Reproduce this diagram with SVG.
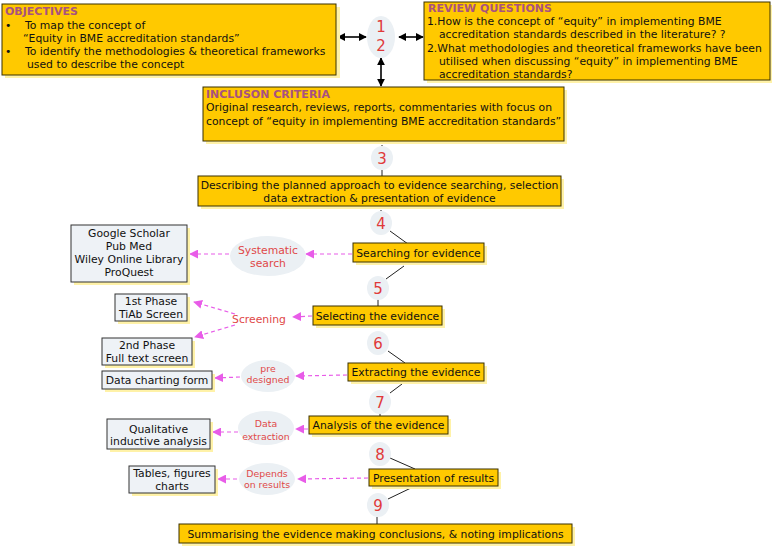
<svg xmlns="http://www.w3.org/2000/svg" width="772" height="547" viewBox="0 0 772 547">
<defs>
<style>
text{font-family:"DejaVu Sans","Verdana",sans-serif;font-size:10.8px;fill:#111}
.ttl{font-weight:bold;fill:#A8527F;font-size:11px}
.num{font-size:15px;fill:#E03A3A;text-anchor:middle}
.red{fill:#E04848;font-size:10.8px;text-anchor:middle}
.sm{font-size:9.4px}
.c{text-anchor:middle}
.box{fill:#FFC900;stroke:#3a3000;stroke-width:1}
.shd{fill:#FFF2A8}
.gb{fill:#EEF2F6;stroke:#333;stroke-width:1}
.el{fill:#EBF0F4}
.ln{stroke:#222;stroke-width:1;fill:none}
.dash{stroke:#E85CE8;stroke-width:1.2;stroke-dasharray:4 3;fill:none;marker-end:url(#pk)}
.dbl{stroke:#000;stroke-width:1.6;fill:none;marker-start:url(#bk);marker-end:url(#bk)}
</style>
<marker id="pk" viewBox="0 0 10 10" refX="9" refY="5" markerWidth="9" markerHeight="9" markerUnits="userSpaceOnUse" orient="auto"><path d="M0,0 L10,5 L0,10 z" fill="#E85CE8"/></marker>
<marker id="bk" viewBox="0 0 10 10" refX="9" refY="5" markerWidth="8" markerHeight="8" markerUnits="userSpaceOnUse" orient="auto-start-reverse"><path d="M0,0 L10,5 L0,10 z" fill="#000"/></marker>
</defs>

<g id="connectors">
<line class="dbl" x1="338" y1="37" x2="366" y2="37"/>
<line class="dbl" x1="399" y1="37" x2="423" y2="37"/>
<line class="dbl" x1="381" y1="58" x2="381" y2="86"/>
<line class="ln" x1="382" y1="143" x2="382" y2="146" stroke-dasharray="1 1"/>
<line class="ln" x1="382" y1="170" x2="382" y2="176"/>
<line class="ln" x1="381" y1="208" x2="381" y2="212" stroke-dasharray="1 1"/>
<line class="ln" x1="390" y1="231" x2="408" y2="244"/>
<line class="ln" x1="404" y1="266" x2="386" y2="279"/>
<line class="ln" x1="378" y1="299" x2="378" y2="306"/>
<line class="ln" x1="388" y1="351" x2="405" y2="363"/>
<line class="ln" x1="402" y1="384" x2="390" y2="393"/>
<line class="ln" x1="380" y1="412" x2="380" y2="416"/>
<line class="ln" x1="390" y1="458" x2="415" y2="469"/>
<line class="ln" x1="413" y1="487" x2="388" y2="499"/>
<line class="ln" x1="377" y1="517" x2="377" y2="524"/>
<line class="dash" x1="352" y1="254" x2="306" y2="254"/>
<line class="dash" x1="229" y1="254" x2="190" y2="254"/>
<line class="dash" x1="312" y1="316" x2="293" y2="317"/>
<line class="dash" x1="235" y1="314" x2="194" y2="302"/>
<line class="dash" x1="235" y1="325" x2="195" y2="337"/>
<line class="dash" x1="347" y1="375" x2="296" y2="376"/>
<line class="dash" x1="240" y1="377" x2="215" y2="378"/>
<line class="dash" x1="308" y1="429" x2="296" y2="429"/>
<line class="dash" x1="238" y1="432" x2="213" y2="432"/>
<line class="dash" x1="368" y1="478" x2="298" y2="479"/>
<line class="dash" x1="237" y1="479" x2="218" y2="479"/>
</g>

<g id="objectives">
<rect class="shd" x="5" y="7" width="335" height="71"/>
<rect class="box" x="2" y="4" width="334" height="71"/>
<text class="ttl" x="5" y="15">OBJECTIVES</text>
<text x="5" y="29">•</text><text x="25" y="29">To map the concept of</text>
<text x="23" y="42">“Equity in BME accreditation standards”</text>
<text x="5" y="55">•</text><text x="25" y="55">To identify the methodologies &amp; theoretical frameworks</text>
<text x="27" y="68">used to describe the concept</text>
</g>

<g id="n12">
<ellipse class="el" cx="381" cy="37" rx="14" ry="21"/>
<text class="num" x="381" y="32">1</text>
<text class="num" x="381" y="51">2</text>
</g>

<g id="review">
<rect class="shd" x="427" y="5" width="345" height="78"/>
<rect class="box" x="424" y="2" width="346" height="78"/>
<text class="ttl" x="428" y="12">REVIEW QUESTIONS</text>
<text x="427" y="25">1.How is the concept of “equity” in implementing BME</text>
<text x="439" y="38">accreditation standards described in the literature? ?</text>
<text x="427" y="52">2.What methodologies and theoretical frameworks have been</text>
<text x="439" y="65">utilised when discussing “equity”  in implementing BME</text>
<text x="439" y="78">accreditation standards?</text>
</g>

<g id="inclusion">
<rect class="shd" x="206" y="90" width="361" height="54"/>
<rect class="box" x="203" y="87" width="361" height="54"/>
<text class="ttl" x="206" y="98">INCLUSON CRITERIA</text>
<text x="206" y="111">Original research, reviews, reports, commentaries with focus on</text>
<text x="206" y="125">concept of “equity in implementing BME accreditation standards”</text>
</g>

<g id="n3"><ellipse class="el" cx="382" cy="158" rx="11" ry="12"/><text class="num" x="382" y="164">3</text></g>

<g id="planned">
<rect class="shd" x="201" y="179" width="363" height="30"/>
<rect class="box" x="198" y="176" width="363" height="30"/>
<text class="c" x="379.5" y="189">Describing the planned approach to evidence searching, selection</text>
<text class="c" x="379.5" y="202">data extraction &amp; presentation of evidence</text>
</g>

<g id="n4"><ellipse class="el" cx="381" cy="223" rx="11" ry="12"/><text class="num" x="381" y="229">4</text></g>

<g id="searching">
<rect class="shd" x="356" y="246" width="131" height="19"/>
<rect class="box" x="353" y="243" width="131" height="19"/>
<text class="c" x="418.5" y="256.5">Searching for evidence</text>
</g>

<g id="n5"><ellipse class="el" cx="378" cy="288" rx="11" ry="12"/><text class="num" x="378" y="294">5</text></g>

<g id="selecting">
<rect class="shd" x="316" y="309" width="129" height="19"/>
<rect class="box" x="313" y="306" width="129" height="19"/>
<text class="c" x="377.5" y="319.5">Selecting the evidence</text>
</g>

<g id="n6"><ellipse class="el" cx="378" cy="343" rx="11" ry="12"/><text class="num" x="378" y="349">6</text></g>

<g id="extracting">
<rect class="shd" x="351" y="366" width="136" height="18"/>
<rect class="box" x="348" y="363" width="136" height="18"/>
<text class="c" x="416" y="376">Extracting the evidence</text>
</g>

<g id="n7"><ellipse class="el" cx="380" cy="402" rx="11" ry="12"/><text class="num" x="380" y="408">7</text></g>

<g id="analysis">
<rect class="shd" x="312" y="419" width="139" height="18"/>
<rect class="box" x="309" y="416" width="139" height="18"/>
<text class="c" x="378.5" y="429">Analysis of the evidence</text>
</g>

<g id="n8"><ellipse class="el" cx="380" cy="454" rx="11" ry="12"/><text class="num" x="380" y="460">8</text></g>

<g id="presentation">
<rect class="shd" x="372" y="472" width="129" height="17"/>
<rect class="box" x="369" y="469" width="129" height="17"/>
<text class="c" x="433.5" y="481.5">Presentation of results</text>
</g>

<g id="n9"><ellipse class="el" cx="378" cy="505" rx="11" ry="12"/><text class="num" x="378" y="511">9</text></g>

<g id="summarising">
<rect class="shd" x="182" y="527" width="393" height="19"/>
<rect class="box" x="179" y="524" width="393" height="19"/>
<text class="c" x="375.5" y="538">Summarising the evidence  making conclusions, &amp; noting implications</text>
</g>

<g id="systematic">
<ellipse class="el" cx="268" cy="256" rx="38" ry="20"/>
<text class="red" x="268" y="254">Systematic</text>
<text class="red" x="268" y="267">search</text>
</g>

<g id="databases">
<rect class="shd" x="74" y="228" width="116" height="57"/>
<rect class="gb" x="71" y="225" width="116" height="57"/>
<text class="c" x="129" y="237">Google Scholar</text>
<text class="c" x="129" y="250">Pub Med</text>
<text class="c" x="129" y="263">Wiley Online Library</text>
<text class="c" x="129" y="276">ProQuest</text>
</g>

<g id="screening">
<text class="red" x="259" y="323">Screening</text>
</g>

<g id="phase1">
<rect class="shd" x="118" y="297" width="72" height="27"/>
<rect class="gb" x="115" y="294" width="72" height="27"/>
<text class="c" x="151" y="305">1st Phase</text>
<text class="c" x="151" y="318">TiAb Screen</text>
</g>

<g id="phase2">
<rect class="shd" x="105" y="341" width="90" height="27"/>
<rect class="gb" x="102" y="338" width="90" height="27"/>
<text class="c" x="147" y="349">2nd Phase</text>
<text class="c" x="147" y="362">Full text screen</text>
</g>

<g id="predesigned">
<ellipse class="el" cx="268" cy="376" rx="27" ry="16"/>
<text class="red sm" x="268" y="372">pre</text>
<text class="red sm" x="268" y="383">designed</text>
</g>

<g id="charting">
<rect class="shd" x="105" y="374" width="110" height="18"/>
<rect class="gb" x="102" y="371" width="110" height="18"/>
<text class="c" x="157" y="384">Data charting form</text>
</g>

<g id="dataextraction">
<ellipse class="el" cx="266" cy="428" rx="28" ry="17"/>
<text class="red sm" x="266" y="427">Data</text>
<text class="red sm" x="266" y="440">extraction</text>
</g>

<g id="qualitative">
<rect class="shd" x="110" y="422" width="103" height="30"/>
<rect class="gb" x="107" y="419" width="103" height="30"/>
<text class="c" x="158.5" y="433">Qualitative</text>
<text class="c" x="158.5" y="445">inductive analysis</text>
</g>

<g id="depends">
<ellipse class="el" cx="267" cy="479" rx="28" ry="16"/>
<text class="red sm" x="267" y="477">Depends</text>
<text class="red sm" x="267" y="488">on results</text>
</g>

<g id="tables">
<rect class="shd" x="132" y="469" width="86" height="27"/>
<rect class="gb" x="129" y="466" width="86" height="27"/>
<text class="c" x="172" y="477">Tables, figures</text>
<text class="c" x="172" y="490">charts</text>
</g>
</svg>
